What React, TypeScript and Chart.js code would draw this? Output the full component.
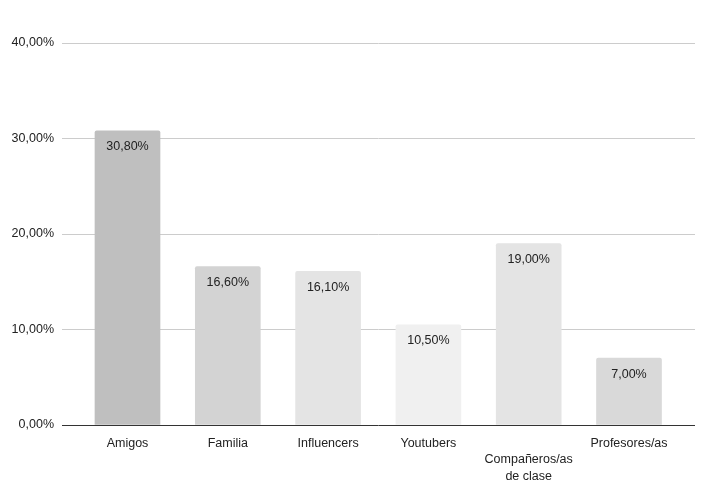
import React, { useEffect, useRef } from "react";
import { Chart, registerables } from "chart.js";

Chart.register(...registerables);

const categories: (string | string[])[] = [
  "Amigos",
  "Familia",
  "Influencers",
  "Youtubers",
  ["", "Compañeros/as", "de clase"],
  "Profesores/as",
];
const values = [30.8, 16.6, 16.1, 10.5, 19.0, 7.0];
const barColors = ["#bfbfbf", "#d3d3d3", "#e4e4e4", "#f0f0f0", "#e4e4e4", "#d9d9d9"];
const yTicks = [0, 10, 20, 30, 40];

const fmt = (v: number) => v.toFixed(2).replace(".", ",") + "%";
const FONT = "'Liberation Sans', Arial, sans-serif";

export default function App() {
  const ref = useRef<HTMLCanvasElement | null>(null);
  useEffect(() => {
    if (!ref.current) return;
    const labelPlugin = {
      id: "barValueLabels",
      afterDatasetsDraw(chart: any) {
        const ctx = chart.ctx;
        const meta = chart.getDatasetMeta(0);
        ctx.save();
        ctx.font = `12.5px ${FONT}`;
        ctx.fillStyle = "#222222";
        ctx.textAlign = "center";
        ctx.textBaseline = "middle";
        meta.data.forEach((bar: any, i: number) => {
          ctx.fillText(fmt(values[i]), bar.x, bar.y + 16);
        });
        ctx.restore();
      },
    };
    const chart = new Chart(ref.current, {
      type: "bar",
      data: {
        datasets: [
          {
            data: values.map((v, i) => ({ x: i, y: v })),
            backgroundColor: barColors,
            barThickness: 65,
            borderRadius: 2,
            borderSkipped: "bottom",
          },
        ],
      },
      options: {
        animation: false,
        responsive: true,
        maintainAspectRatio: false,
        layout: { padding: { top: 43, right: 7, left: 0, bottom: 0 } },
        plugins: { legend: { display: false }, tooltip: { enabled: false } },
        scales: {
          x: {
            type: "linear",
            offset: false,
            min: -0.653,
            max: 5.658,
            grid: { display: false },
            border: { display: false },
            afterBuildTicks: (scale: any) => {
              scale.ticks = categories.map((_, i) => ({ value: i }));
            },
            afterFit: (scale: any) => {
              scale.height = 57;
            },
            ticks: {
              autoSkip: false,
              maxRotation: 0,
              padding: 2,
              color: "#222222",
              font: { family: FONT, size: 12.5, lineHeight: "16.5px" },
              callback: (v: any) => categories[Math.round(Number(v))] ?? "",
            },
          },
          y: {
            min: 0,
            max: 40,
            afterBuildTicks: (scale: any) => {
              scale.ticks = yTicks.map((v) => ({ value: v }));
            },
            afterFit: (scale: any) => {
              scale.width = 62;
            },
            border: { display: false },
            grid: {
              drawTicks: false,
              color: (c: any) => (c.tick && c.tick.value === 0 ? "#333333" : "#cccccc"),
              lineWidth: 1,
            },
            ticks: {
              padding: 8,
              color: "#222222",
              font: { family: FONT, size: 12.5 },
              callback: (v: any) => fmt(Number(v)),
            },
          },
        },
      },
      plugins: [labelPlugin],
    } as any);
    return () => chart.destroy();
  }, []);
  return (
    <div style={{ position: "fixed", left: 0, top: 0, width: 702, height: 482, background: "#fff" }}>
      <canvas ref={ref} />
    </div>
  );
}
